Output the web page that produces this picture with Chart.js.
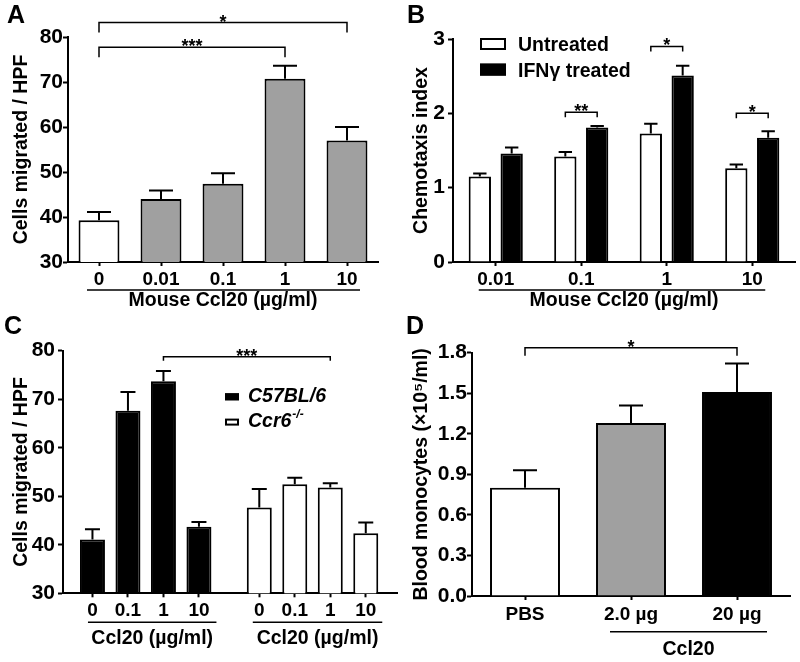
<!DOCTYPE html>
<html>
<head>
<meta charset="utf-8">
<title>Ccl20 chemotaxis</title>
<script src="https://cdn.jsdelivr.net/npm/chart.js@4.4.0/dist/chart.umd.min.js"></script>
<style>
  body { margin: 0; background: #fff; }
  #page { position: relative; width: 800px; height: 662px; font-family: "Liberation Sans", Arial, Helvetica, sans-serif; }
  canvas { position: absolute; }
  .tag { position: absolute; font-weight: bold; font-size: 25px; line-height: 25px; }
</style>
</head>
<body>
<div id="page">
  <canvas id="chartA" width="400" height="310" style="left:0;top:0"></canvas>
  <canvas id="chartB" width="400" height="310" style="left:400px;top:0"></canvas>
  <canvas id="chartC" width="400" height="352" style="left:0;top:310px"></canvas>
  <canvas id="chartD" width="400" height="352" style="left:400px;top:310px"></canvas>
  <div class="tag" style="left:7px;top:2px">A</div>
  <div class="tag" style="left:407px;top:2px">B</div>
  <div class="tag" style="left:4px;top:313px">C</div>
  <div class="tag" style="left:406px;top:313px">D</div>
</div>
<script>
// A: migration towards Ccl20
var doseA = ['0', '0.01', '0.1', '1', '10'];
var migratedA = [39.3, 44.0, 47.4, 70.7, 57.0];
var semA = [1.8, 1.9, 2.3, 2.9, 3.0];

// B: chemotaxis index, untreated vs IFNg
var doseB = ['0.01', '0.1', '1', '10'];
var untreatedB = [1.15, 1.42, 1.73, 1.26];
var untreatedSemB = [0.04, 0.06, 0.13, 0.05];
var ifngB = [1.46, 1.81, 2.51, 1.67];
var ifngSemB = [0.08, 0.02, 0.13, 0.09];

// C: wild type vs Ccr6 knockout
var doseC = ['0', '0.1', '1', '10'];
var wildC = [41.1, 67.6, 73.7, 43.7];
var wildSemC = [2.1, 3.9, 2.1, 1.0];
var ccr6C = [47.7, 52.5, 51.8, 42.4];
var ccr6SemC = [3.8, 1.3, 0.9, 2.2];

// D: blood monocytes
var groupD = ['PBS', '2.0 µg', '20 µg'];
var monoD = [0.80, 1.28, 1.51];
var monoSemD = [0.13, 0.13, 0.21];

var GREY = '#a0a0a0';
var FONT = '"Liberation Sans", Arial, Helvetica, sans-serif';
Chart.defaults.font.family = FONT;
Chart.defaults.color = '#000';

// upper whisker with cap on each bar
var errorBars = {
  id: 'errorBars',
  afterDatasetsDraw: function (chart) {
    var ctx = chart.ctx, y = chart.scales.y;
    chart.data.datasets.forEach(function (ds, di) {
      if (!ds.errors) return;
      chart.getDatasetMeta(di).data.forEach(function (bar, i) {
        var v = ds.data[i];
        if (typeof v === 'object') v = v.y;
        var top = y.getPixelForValue(v + ds.errors[i]);
        var half = Math.min(bar.width * 0.3, 12);
        ctx.save();
        ctx.strokeStyle = '#000';
        ctx.lineWidth = 2;
        ctx.beginPath();
        ctx.moveTo(bar.x, bar.y);
        ctx.lineTo(bar.x, top);
        ctx.moveTo(bar.x - half, top);
        ctx.lineTo(bar.x + half, top);
        ctx.stroke();
        ctx.restore();
      });
    });
  }
};

// significance brackets between two bars
var brackets = {
  id: 'brackets',
  afterDraw: function (chart, args, opts) {
    if (!opts || !opts.items) return;
    var ctx = chart.ctx;
    opts.items.forEach(function (b) {
      var x1 = chart.getDatasetMeta(b.from[0]).data[b.from[1]].x;
      var x2 = chart.getDatasetMeta(b.to[0]).data[b.to[1]].x;
      var yy = chart.scales.y.getPixelForValue(b.y);
      ctx.save();
      ctx.strokeStyle = '#000';
      ctx.lineWidth = 1.5;
      ctx.beginPath();
      ctx.moveTo(x1, yy + opts.leg);
      ctx.lineTo(x1, yy);
      ctx.lineTo(x2, yy);
      ctx.lineTo(x2, yy + opts.leg);
      ctx.stroke();
      ctx.fillStyle = '#000';
      ctx.font = 'bold 18px ' + FONT;
      ctx.textAlign = 'center';
      ctx.textBaseline = 'alphabetic';
      ctx.fillText(b.text, (x1 + x2) / 2, yy + 5);
      ctx.restore();
    });
  }
};

// underline under a run of tick labels, with optional group name
var groupLines = {
  id: 'groupLines',
  afterDraw: function (chart, args, opts) {
    if (!opts || !opts.items) return;
    var ctx = chart.ctx, x = chart.scales.x;
    opts.items.forEach(function (g) {
      var x1 = x.getPixelForValue(g.from) - g.padL;
      var x2 = x.getPixelForValue(g.to) + g.padR;
      ctx.save();
      ctx.strokeStyle = '#000';
      ctx.lineWidth = 1.5;
      ctx.beginPath();
      ctx.moveTo(x1, opts.y);
      ctx.lineTo(x2, opts.y);
      ctx.stroke();
      if (g.text) {
        ctx.fillStyle = '#000';
        ctx.font = 'bold 19.5px ' + FONT;
        ctx.textAlign = 'center';
        ctx.textBaseline = 'middle';
        ctx.fillText(g.text, (x1 + x2) / 2, opts.textY);
      }
      ctx.restore();
    });
  }
};

// boxed legend inside the plot
var boxLegend = {
  id: 'boxLegend',
  afterDraw: function (chart, args, o) {
    if (!o || !o.font) return;
    var ctx = chart.ctx;
    chart.data.datasets.forEach(function (ds, i) {
      var by = o.y + i * o.rowH;
      ctx.save();
      ctx.fillStyle = ds.backgroundColor;
      ctx.fillRect(o.x, by, o.boxW, o.boxH);
      ctx.strokeStyle = '#000';
      ctx.lineWidth = 2;
      ctx.strokeRect(o.x + 1, by + 1, o.boxW - 2, o.boxH - 2);
      ctx.fillStyle = '#000';
      ctx.font = o.font;
      ctx.textAlign = 'left';
      ctx.textBaseline = 'middle';
      var ty = by + o.boxH / 2 + o.textDy;
      ctx.fillText(ds.label, o.textX, ty);
      if (ds.sup) {
        var w = ctx.measureText(ds.label).width;
        ctx.font = o.supFont;
        ctx.fillText(ds.sup, o.textX + w + 1, ty - 7);
      }
      ctx.restore();
    });
  }
};

function yAxis(o) {
  return {
    min: o.min,
    max: o.max,
    afterFit: function (s) { s.width = o.width; },
    ticks: { stepSize: o.step, padding: o.tickPad, color: '#000', font: { size: 21, weight: 'bold' }, callback: o.fmt },
    grid: { drawOnChartArea: false, tickLength: 5, tickWidth: 2, tickColor: '#000' },
    border: { color: '#000', width: 2 },
    title: { display: true, text: o.title, color: '#000', font: { size: 19.5, weight: 'bold', lineHeight: 1.2 }, padding: { top: 10.3, bottom: 0 } }
  };
}

function xAxis(o) {
  return {
    z: 1,
    offset: true,
    afterFit: function (s) { s.height = o.height; },
    grid: { offset: false, drawOnChartArea: false, tickLength: 4, tickWidth: 2, tickColor: '#000' },
    border: { color: '#000', width: 2 },
    ticks: { padding: o.tickPad, autoSkip: false, maxRotation: 0, color: '#000', font: { size: 19, weight: 'bold' } },
    title: o.title
      ? { display: true, text: o.title, color: '#000', font: { size: 19.5, weight: 'bold', lineHeight: 1 }, padding: { top: 0, bottom: 0 } }
      : { display: false }
  };
}

function barChart(id, data, cfg) {
  return new Chart(document.getElementById(id), {
    type: 'bar',
    data: data,
    plugins: [errorBars, brackets, groupLines, boxLegend],
    options: {
      responsive: false,
      animation: false,
      layout: { padding: cfg.padding },
      plugins: {
        legend: { display: false },
        tooltip: { enabled: false },
        brackets: cfg.brackets,
        groupLines: cfg.groups,
        boxLegend: cfg.legend || {}
      },
      scales: { x: cfg.x, y: cfg.y }
    }
  });
}

// ---- A
barChart('chartA', {
  labels: doseA,
  datasets: [{
    data: migratedA, errors: semA,
    backgroundColor: ['#ffffff', GREY, GREY, GREY, GREY],
    borderColor: '#000', borderWidth: 2,
    categoryPercentage: 1, barPercentage: 0.66
  }]
}, {
  padding: { left: 0, top: 37, right: 22, bottom: 0 },
  x: xAxis({ height: 48, tickPad: 2, title: 'Mouse Ccl20 (µg/ml)' }),
  y: yAxis({ min: 30, max: 80, step: 10, width: 68, tickPad: 0, title: 'Cells migrated / HPF' }),
  brackets: { leg: 10, items: [
    { from: [0, 0], to: [0, 4], y: 83.2, text: '*' },
    { from: [0, 0], to: [0, 3], y: 77.7, text: '***' }
  ] },
  groups: { y: 290, items: [{ from: 0, to: 4, padL: 12, padR: 13 }] }
});

// ---- B
barChart('chartB', {
  labels: doseB,
  datasets: [
    { label: 'Untreated', data: untreatedB, errors: untreatedSemB, backgroundColor: '#ffffff',
      borderColor: '#000', borderWidth: 2, categoryPercentage: 0.745, barPercentage: 0.70 },
    { label: 'IFNγ treated', data: ifngB, errors: ifngSemB, backgroundColor: '#000000',
      borderColor: '#000', borderWidth: 2, categoryPercentage: 0.745, barPercentage: 0.70 }
  ]
}, {
  padding: { left: 0, top: 39, right: 5, bottom: 0 },
  x: xAxis({ height: 48, tickPad: 2, title: 'Mouse Ccl20 (µg/ml)' }),
  y: yAxis({ min: 0, max: 3, step: 1, width: 53, tickPad: 3, title: 'Chemotaxis index' }),
  brackets: { leg: 5, items: [
    { from: [0, 1], to: [1, 1], y: 2.015, text: '**' },
    { from: [0, 2], to: [1, 2], y: 2.90, text: '*' },
    { from: [0, 3], to: [1, 3], y: 2.0, text: '*' }
  ] },
  groups: { y: 290, items: [{ from: 0, to: 3, padL: 17, padR: 13 }] },
  legend: { x: 80, y: 38, boxW: 26, boxH: 12, rowH: 25.6, textX: 118, textDy: 2, font: 'bold 19.5px ' + FONT }
});

// ---- C
var gapC = 4.7; // distance of the Ccr6 group from the first group, in bar slots
var posWild = doseC.map(function (d, i) { return i; });
var posCcr6 = doseC.map(function (d, i) { return i + gapC; });
var tickPosC = posWild.concat(posCcr6);
var tickLabelC = doseC.concat(doseC);

var xC = xAxis({ height: 68.7, tickPad: 2 });
xC.type = 'linear';
xC.offset = false;
xC.min = -0.83;
xC.max = 8.58;
xC.afterBuildTicks = function (s) { s.ticks = tickPosC.map(function (v) { return { value: v }; }); };
xC.ticks.callback = function (v, i) { return tickLabelC[i]; };

barChart('chartC', {
  datasets: [
    { label: 'C57BL/6', data: wildC.map(function (v, i) { return { x: posWild[i], y: v }; }), errors: wildSemC,
      backgroundColor: '#000000', borderColor: '#000', borderWidth: 2, grouped: false,
      categoryPercentage: 1, barPercentage: 0.704 },
    { label: 'Ccr6', sup: '-/-', data: ccr6C.map(function (v, i) { return { x: posCcr6[i], y: v }; }), errors: ccr6SemC,
      backgroundColor: '#ffffff', borderColor: '#000', borderWidth: 2, grouped: false,
      categoryPercentage: 1, barPercentage: 0.704 }
  ]
}, {
  padding: { left: 0, top: 40.7, right: 3, bottom: 0 },
  x: xC,
  y: yAxis({ min: 30, max: 80, step: 10, width: 63, tickPad: 3, title: 'Cells migrated / HPF' }),
  brackets: { leg: 4, items: [{ from: [0, 2], to: [1, 2], y: 78.75, text: '***' }] },
  groups: { y: 312.3, textY: 328.3, items: [
    { from: posWild[0], to: posWild[3], padL: 4.5, padR: 17.5, text: 'Ccl20 (µg/ml)' },
    { from: posCcr6[0], to: posCcr6[3], padL: 6.5, padR: 16.5, text: 'Ccl20 (µg/ml)' }
  ] },
  legend: { x: 225, y: 83.3, boxW: 14, boxH: 7, rowH: 25.3, textX: 248, textDy: 0,
    font: 'italic bold 19.5px ' + FONT, supFont: 'italic bold 12px ' + FONT }
});

// ---- D
barChart('chartD', {
  labels: groupD,
  datasets: [{
    data: monoD, errors: monoSemD,
    backgroundColor: ['#ffffff', GREY, '#000000'],
    borderColor: '#000', borderWidth: 2,
    categoryPercentage: 1, barPercentage: 0.66
  }]
}, {
  padding: { left: 0, top: 42.7, right: 10, bottom: 0 },
  x: xAxis({ height: 66, tickPad: 3.6 }),
  y: yAxis({ min: 0, max: 1.8, step: 0.3, width: 72, tickPad: 0, title: 'Blood monocytes (×10⁵/ml)',
    fmt: function (v) { return v.toFixed(1); } }),
  brackets: { leg: 8, items: [{ from: [0, 0], to: [0, 2], y: 1.837, text: '*' }] },
  groups: { y: 321.7, textY: 340, items: [{ from: 1, to: 2, padL: 21, padR: 30, text: 'Ccl20' }] }
});
</script>
</body>
</html>
